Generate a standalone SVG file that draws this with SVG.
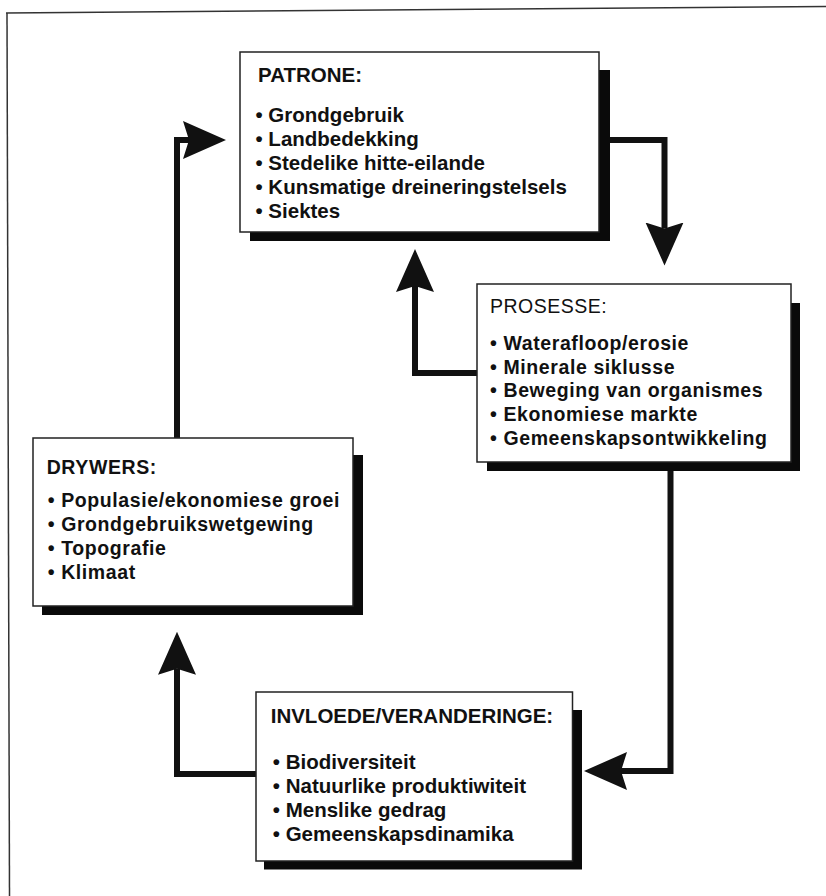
<svg xmlns="http://www.w3.org/2000/svg" width="826" height="896" viewBox="0 0 826 896">
  <style>
    .box { fill: #ffffff; stroke: #222; stroke-width: 1.5; }
    .shadow { fill: #0a0a0a; }
    .cond { font-family: "Liberation Sans", Arial, sans-serif; font-weight: bold; font-size: 20.5px; fill: #111; }
    .wide { font-family: "Liberation Sans", Arial, sans-serif; font-weight: bold; font-size: 19.5px; letter-spacing: 0.6px; fill: #111; }
    .wideh { font-family: "Liberation Sans", Arial, sans-serif; font-weight: normal; font-size: 19.5px; letter-spacing: 0.5px; fill: #111; }
    .conn { fill: none; stroke: #111; stroke-width: 6; stroke-linejoin: miter; marker-end: url(#ah); }
    .frame { fill: none; stroke: #333; stroke-width: 1.5; }
  </style>
  <defs>
    <marker id="ah" markerUnits="userSpaceOnUse" markerWidth="50" markerHeight="44" viewBox="0 -22 50 44" refX="6" refY="0" orient="auto">
      <path d="M0,-19 L43,0 L0,19 L6,0 Z" fill="#111"/>
    </marker>
  </defs>
  <rect x="0" y="0" width="826" height="896" fill="#ffffff"/>

  <g id="frame">
    <path class="frame" d="M6,13 L826,6.5"/>
    <path class="frame" d="M7,13 L9.5,896"/>
  </g>

  <g id="connectors">
    <path class="conn" d="M177,438 V140 H189"/>
    <path class="conn" d="M600,140 H664.5 V228.5"/>
    <path class="conn" d="M477,373 H415 V286"/>
    <path class="conn" d="M670.5,462 V771 H621"/>
    <path class="conn" d="M256,774 H177 V668.7"/>
  </g>

  <g id="patrone">
    <rect class="shadow" x="250" y="70" width="360" height="171"/>
    <rect class="box" x="240" y="52" width="359" height="180"/>
    <text class="cond" x="258" y="82">PATRONE:</text>
    <text class="cond" x="255.5" y="121.5">• Grondgebruik</text>
    <text class="cond" x="255.5" y="145.5">• Landbedekking</text>
    <text class="cond" x="255.5" y="169.5">• Stedelike hitte-eilande</text>
    <text class="cond" x="255.5" y="193.5">• Kunsmatige dreineringstelsels</text>
    <text class="cond" x="255.5" y="217.5">• Siektes</text>
  </g>

  <g id="prosesse">
    <rect class="shadow" x="487" y="303" width="313" height="168"/>
    <rect class="box" x="477" y="284" width="314" height="178"/>
    <text class="wideh" x="490" y="313.3">PROSESSE:</text>
    <text class="wide" x="490" y="350">• Waterafloop/erosie</text>
    <text class="wide" x="490" y="373.7">• Minerale siklusse</text>
    <text class="wide" x="490" y="397.4">• Beweging van organismes</text>
    <text class="wide" x="490" y="421.1">• Ekonomiese markte</text>
    <text class="wide" x="490" y="444.8">• Gemeenskapsontwikkeling</text>
  </g>

  <g id="drywers">
    <rect class="shadow" x="42" y="455" width="321" height="160"/>
    <rect class="box" x="33" y="438" width="320" height="168"/>
    <text class="wide" x="46.7" y="474">DRYWERS:</text>
    <text class="wide" x="47.7" y="506.7">• Populasie/ekonomiese groei</text>
    <text class="wide" x="47.7" y="530.9">• Grondgebruikswetgewing</text>
    <text class="wide" x="47.7" y="555.1">• Topografie</text>
    <text class="wide" x="47.7" y="579.3">• Klimaat</text>
  </g>

  <g id="invloede">
    <rect class="shadow" x="264" y="710" width="318" height="159.5"/>
    <rect class="box" x="256" y="692" width="316.5" height="169"/>
    <text class="cond" x="270.7" y="723.3">INVLOEDE/VERANDERINGE:</text>
    <text class="cond" x="272.8" y="769.3">• Biodiversiteit</text>
    <text class="cond" x="272.8" y="793">• Natuurlike produktiwiteit</text>
    <text class="cond" x="272.8" y="816.8">• Menslike gedrag</text>
    <text class="cond" x="272.8" y="840.6">• Gemeenskapsdinamika</text>
  </g>
</svg>
